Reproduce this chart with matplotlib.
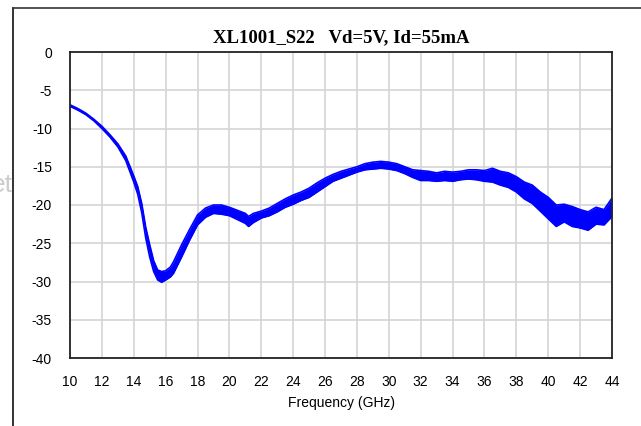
import matplotlib
matplotlib.use("Agg")
import matplotlib.pyplot as plt
from matplotlib.lines import Line2D

# ---- data (S22 in dB vs frequency in GHz) ----
freq = [10, 10.5, 11, 11.5, 12, 12.5, 13, 13.5, 14, 14.25, 14.5, 14.75, 15, 15.25, 15.5, 15.75,
        16, 16.3, 16.5, 17, 17.5, 18, 18.5, 19, 19.5, 20, 20.5, 21, 21.2, 21.5, 22, 22.5,
        23, 23.5, 24, 24.5, 25, 25.5, 26, 26.5, 27, 27.5, 28, 28.5, 29, 29.5, 30, 30.5,
        31, 31.5, 32, 32.5, 33, 33.5, 34, 34.5, 35, 35.5, 36, 36.5, 37, 37.5, 38, 38.5,
        39, 39.5, 40, 40.5, 41, 41.5, 42, 42.5, 43, 43.5, 44]

s22_upper = [-6.9, -7.4, -8.0, -8.8, -9.7, -10.8, -12.0, -13.6, -16.2, -17.6, -19.8, -22.9, -25.2,
             -27.3, -28.5, -28.7, -28.6, -28.1, -27.4, -25.2, -23.2, -21.3, -20.4, -20.0, -20.0,
             -20.3, -20.7, -21.1, -21.5, -21.1, -20.8, -20.4, -19.8, -19.2, -18.7, -18.3, -17.8,
             -17.1, -16.5, -16.0, -15.6, -15.3, -15.0, -14.6, -14.4, -14.3, -14.4, -14.6, -15.0,
             -15.4, -15.5, -15.6, -15.8, -15.6, -15.7, -15.6, -15.4, -15.4, -15.5, -15.2, -15.6,
             -15.8, -16.3, -17.0, -17.4, -18.3, -19.0, -20.0, -19.9, -20.2, -20.6, -20.9, -20.3,
             -20.6, -19.1]

s22_lower = [-7.1, -7.6, -8.2, -9.0, -10.0, -11.1, -12.4, -14.2, -17.0, -18.6, -21.0, -24.3, -26.8,
             -28.7, -29.8, -30.1, -29.8, -29.4, -28.9, -26.8, -24.6, -22.6, -21.6, -21.1, -21.2,
             -21.4, -21.9, -22.4, -22.8, -22.3, -21.7, -21.4, -20.9, -20.3, -19.9, -19.4, -19.0,
             -18.3, -17.6, -16.9, -16.5, -16.1, -15.7, -15.4, -15.3, -15.2, -15.3, -15.5, -15.9,
             -16.4, -16.8, -16.8, -16.9, -16.8, -16.9, -16.7, -16.6, -16.7, -16.9, -17.0, -17.4,
             -17.7, -18.3, -19.2, -19.8, -20.8, -21.8, -22.8, -22.2, -22.8, -23.0, -23.3, -22.5,
             -22.6, -21.5]

x_ticks = [10, 12, 14, 16, 18, 20, 22, 24, 26, 28, 30, 32, 34, 36, 38, 40, 42, 44]
y_ticks = [0, -5, -10, -15, -20, -25, -30, -35, -40]
title_text = "XL1001_S22   Vd=5V, Id=55mA"
x_label = "Frequency (GHz)"

W, H = 641, 426
fig = plt.figure(figsize=(W / 100, H / 100), dpi=100)
fig.patch.set_facecolor("white")

L, R, T, B = 70, 612, 52, 358
ax = fig.add_axes([L / W, 1 - B / H, (R - L) / W, (B - T) / H])

blue = "#0000ff"
ax.fill_between(freq, s22_lower, s22_upper, color=blue, linewidth=0)
ax.plot(freq, s22_upper, color=blue, lw=1.2)
ax.plot(freq, s22_lower, color=blue, lw=1.2)

ax.set_xlim(10, 44)
ax.set_ylim(-40, 0)
ax.set_xticks(x_ticks)
ax.set_yticks(y_ticks)
ax.set_xticklabels([str(v) for v in x_ticks], fontfamily="Liberation Sans", fontsize=10)
ax.set_yticklabels([str(v) for v in y_ticks], fontfamily="Liberation Sans", fontsize=10)
ax.tick_params(axis="both", length=0)
ax.tick_params(axis="x", pad=12)
ax.tick_params(axis="y", pad=13)
ax.grid(True, color="#d4d4d4", lw=1.2)
ax.set_axisbelow(True)
for s in ax.spines.values():
    s.set_color("#222222")
    s.set_linewidth(1.3)

fig.text(341 / W, 1 - 38 / H, title_text, ha="center", va="center",
         fontfamily="Liberation Serif", fontweight="bold", fontsize=13.5)
fig.text(341 / W, 1 - 403 / H, x_label, ha="center", va="center",
         fontfamily="Liberation Sans", fontsize=10)

# outer chart frame (left and top edges visible)
fig.add_artist(Line2D([13 / W, 13 / W], [0, 1 - 8 / H], color="#111111", lw=1.2,
                      transform=fig.transFigure))
fig.add_artist(Line2D([13 / W, 1], [1 - 8 / H, 1 - 8 / H], color="#333333", lw=1.2,
                      transform=fig.transFigure))

# clipped watermark fragment at the left edge (cut off in the reference too)
fig.text(12.5 / W, 1 - 192 / H, "et", ha="right", va="baseline",
         fontfamily="Liberation Sans", fontsize=19, color="#cccccc")

fig.savefig("out.png", dpi=100)
